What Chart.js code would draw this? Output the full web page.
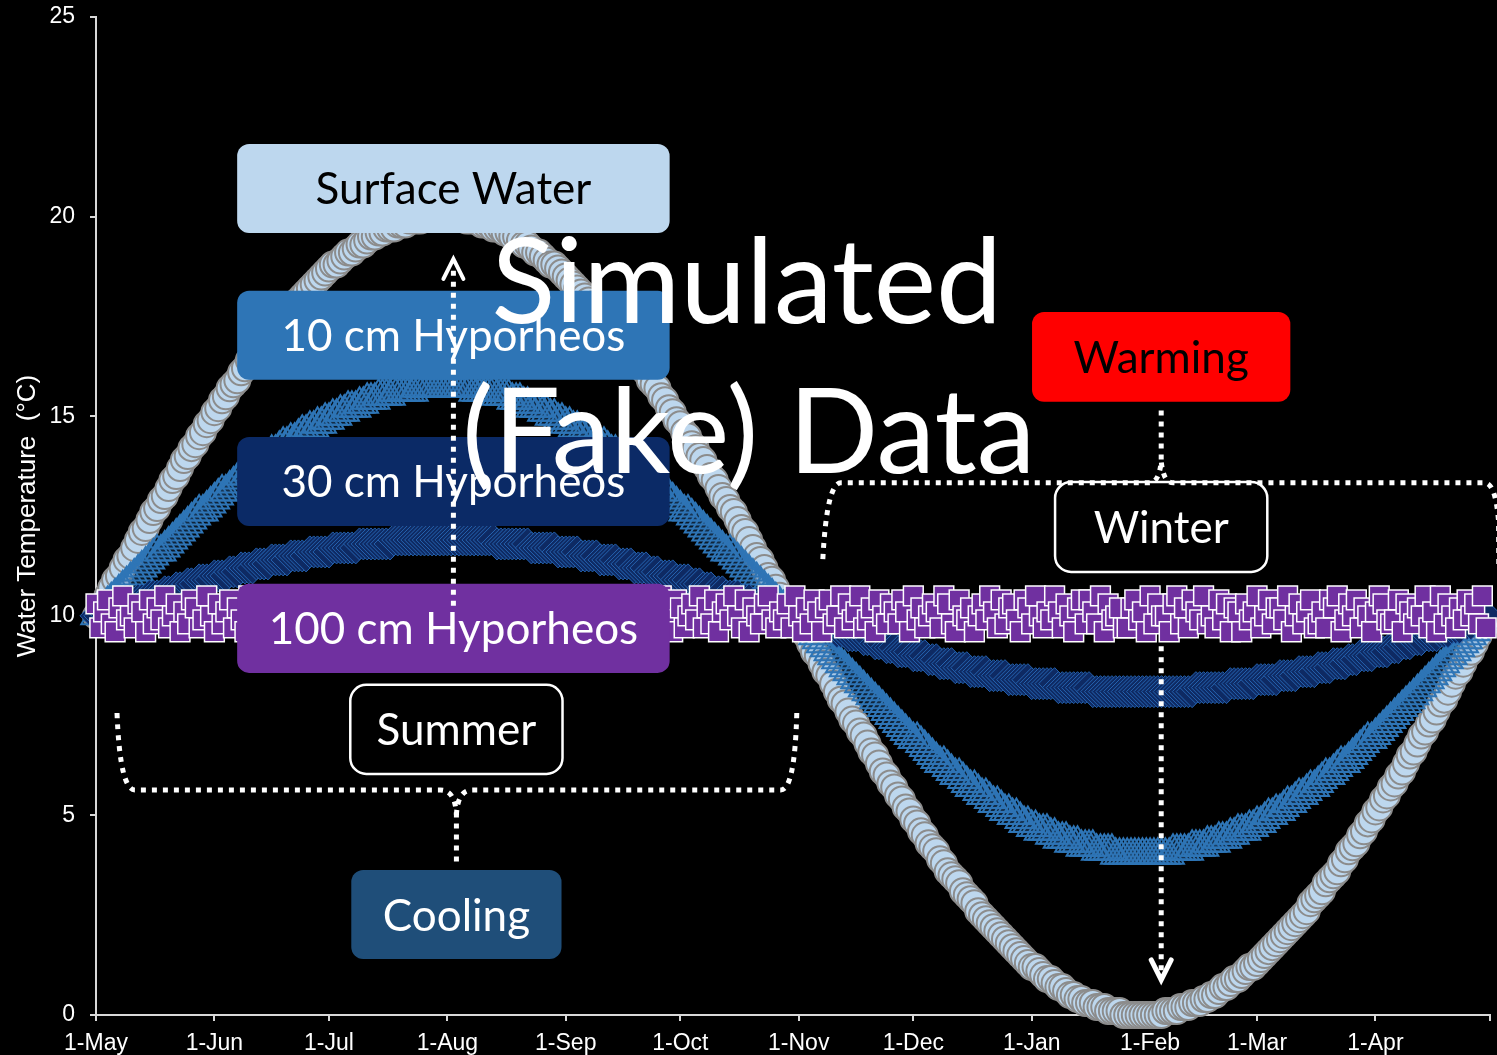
<!DOCTYPE html>
<html>
<head>
<meta charset="utf-8">
<script src="https://cdn.jsdelivr.net/npm/chart.js@4.4.1/dist/chart.umd.min.js"></script>
<style>
  html, body { margin: 0; padding: 0; background: #000; overflow: hidden; }
  canvas { display: block; }
</style>
</head>
<body>
<canvas id="chart" width="1497" height="1055"></canvas>
<script>
// Month tick positions (days after 1 May) and their labels
const monthStartDays = [0, 31, 61, 92, 123, 153, 184, 214, 245, 276, 304, 335, 365];
const monthLabels = ['1-May', '1-Jun', '1-Jul', '1-Aug', '1-Sep', '1-Oct', '1-Nov', '1-Dec', '1-Jan', '1-Feb', '1-Mar', '1-Apr', ''];
const yTickValues = [0, 5, 10, 15, 20, 25];

// Daily readings, starting 1 May
const sampleStepDays = 1;

const surfaceWater = [
  10.0,10.2,10.3,10.5,10.7,10.9,11.0,11.2,11.4,11.5,
  11.7,11.9,12.1,12.2,12.4,12.6,12.7,12.9,13.0,13.2,
  13.4,13.5,13.7,13.9,14.0,14.2,14.3,14.5,14.6,14.8,
  14.9,15.1,15.2,15.4,15.5,15.7,15.8,15.9,16.1,16.2,
  16.4,16.5,16.6,16.7,16.9,17.0,17.1,17.2,17.4,17.5,
  17.6,17.7,17.8,17.9,18.0,18.1,18.2,18.3,18.4,18.5,
  18.6,18.7,18.8,18.8,18.9,19.0,19.1,19.1,19.2,19.3,
  19.3,19.4,19.5,19.5,19.6,19.6,19.7,19.7,19.7,19.8,
  19.8,19.8,19.9,19.9,19.9,19.9,20.0,20.0,20.0,20.0,
  20.0,20.0,
  20.0,
  20.0,20.0,20.0,20.0,19.9,19.9,19.9,19.9,19.8,19.8,
  19.8,19.7,19.7,19.7,19.6,19.6,19.5,19.5,19.4,19.3,
  19.3,19.2,19.1,19.1,19.0,18.9,18.8,18.8,18.7,18.6,
  18.5,18.4,18.3,18.2,18.1,18.0,17.9,17.8,17.7,17.6,
  17.5,17.4,17.2,17.1,17.0,16.9,16.7,16.6,16.5,16.4,
  16.2,16.1,15.9,15.8,15.7,15.5,15.4,15.2,15.1,14.9,
  14.8,14.6,14.5,14.3,14.2,14.0,13.9,13.7,13.5,13.4,
  13.2,13.0,12.9,12.7,12.6,12.4,12.2,12.1,11.9,11.7,
  11.5,11.4,11.2,11.0,10.9,10.7,10.5,10.3,10.2,10.0,
  10.0,9.8,9.7,9.5,9.3,9.1,9.0,8.8,8.6,8.5,
  8.3,8.1,7.9,7.8,7.6,7.4,7.3,7.1,7.0,6.8,
  6.6,6.5,6.3,6.1,6.0,5.8,5.7,5.5,5.4,5.2,
  5.1,4.9,4.8,4.6,4.5,4.3,4.2,4.1,3.9,3.8,
  3.6,3.5,3.4,3.3,3.1,3.0,2.9,2.8,2.6,2.5,
  2.4,2.3,2.2,2.1,2.0,1.9,1.8,1.7,1.6,1.5,
  1.4,1.3,1.2,1.2,1.1,1.0,0.9,0.9,0.8,0.7,
  0.7,0.6,0.5,0.5,0.4,0.4,0.3,0.3,0.3,0.2,
  0.2,0.2,0.1,0.1,0.1,0.1,0.0,0.0,0.0,0.0,
  0.0,0.0,
  0.0,
  0.0,0.0,0.0,0.0,0.1,0.1,0.1,0.1,0.2,0.2,
  0.2,0.3,0.3,0.3,0.4,0.4,0.5,0.5,0.6,0.7,
  0.7,0.8,0.9,0.9,1.0,1.1,1.2,1.2,1.3,1.4,
  1.5,1.6,1.7,1.8,1.9,2.0,2.1,2.2,2.3,2.4,
  2.5,2.6,2.8,2.9,3.0,3.1,3.3,3.4,3.5,3.6,
  3.8,3.9,4.1,4.2,4.3,4.5,4.6,4.8,4.9,5.1,
  5.2,5.4,5.5,5.7,5.8,6.0,6.1,6.3,6.5,6.6,
  6.8,7.0,7.1,7.3,7.4,7.6,7.8,7.9,8.1,8.3,
  8.5,8.6,8.8,9.0,9.1,9.3,9.5,9.7,9.8
];

const hyporheos10cm = [
  10.0,10.1,10.2,10.3,10.4,10.5,10.6,10.7,10.8,10.9,
  11.0,11.1,11.2,11.3,11.4,11.5,11.6,11.6,11.7,11.8,
  11.9,12.0,12.1,12.2,12.3,12.4,12.5,12.6,12.6,12.7,
  12.8,12.9,13.0,13.1,13.1,13.2,13.3,13.4,13.5,13.5,
  13.6,13.7,13.8,13.8,13.9,14.0,14.1,14.1,14.2,14.3,
  14.3,14.4,14.4,14.5,14.6,14.6,14.7,14.7,14.8,14.8,
  14.9,14.9,15.0,15.0,15.1,15.1,15.2,15.2,15.2,15.3,
  15.3,15.4,15.4,15.4,15.5,15.5,15.5,15.5,15.6,15.6,
  15.6,15.6,15.6,15.6,15.7,15.7,15.7,15.7,15.7,15.7,
  15.7,15.7,
  15.7,
  15.7,15.7,15.7,15.7,15.7,15.7,15.6,15.6,15.6,15.6,
  15.6,15.6,15.5,15.5,15.5,15.5,15.4,15.4,15.4,15.3,
  15.3,15.2,15.2,15.2,15.1,15.1,15.0,15.0,14.9,14.9,
  14.8,14.8,14.7,14.7,14.6,14.6,14.5,14.4,14.4,14.3,
  14.3,14.2,14.1,14.1,14.0,13.9,13.8,13.8,13.7,13.6,
  13.5,13.5,13.4,13.3,13.2,13.1,13.1,13.0,12.9,12.8,
  12.7,12.6,12.6,12.5,12.4,12.3,12.2,12.1,12.0,11.9,
  11.8,11.7,11.6,11.6,11.5,11.4,11.3,11.2,11.1,11.0,
  10.9,10.8,10.7,10.6,10.5,10.4,10.3,10.2,10.1,10.0,
  10.0,9.9,9.8,9.7,9.6,9.5,9.4,9.3,9.2,9.1,
  9.0,8.9,8.8,8.7,8.6,8.5,8.4,8.3,8.2,8.1,
  8.0,7.9,7.8,7.7,7.6,7.5,7.4,7.3,7.2,7.1,
  7.0,6.9,6.9,6.8,6.7,6.6,6.5,6.4,6.3,6.3,
  6.2,6.1,6.0,6.0,5.9,5.8,5.7,5.7,5.6,5.5,
  5.5,5.4,5.3,5.3,5.2,5.1,5.1,5.0,5.0,4.9,
  4.8,4.8,4.7,4.7,4.6,4.6,4.6,4.5,4.5,4.4,
  4.4,4.4,4.3,4.3,4.3,4.2,4.2,4.2,4.2,4.1,
  4.1,4.1,4.1,4.1,4.0,4.0,4.0,4.0,4.0,4.0,
  4.0,4.0,
  4.0,
  4.0,4.0,4.0,4.0,4.0,4.0,4.1,4.1,4.1,4.1,
  4.1,4.2,4.2,4.2,4.2,4.3,4.3,4.3,4.4,4.4,
  4.4,4.5,4.5,4.6,4.6,4.6,4.7,4.7,4.8,4.8,
  4.9,5.0,5.0,5.1,5.1,5.2,5.3,5.3,5.4,5.5,
  5.5,5.6,5.7,5.7,5.8,5.9,6.0,6.0,6.1,6.2,
  6.3,6.3,6.4,6.5,6.6,6.7,6.8,6.9,6.9,7.0,
  7.1,7.2,7.3,7.4,7.5,7.6,7.7,7.8,7.9,8.0,
  8.1,8.2,8.3,8.4,8.5,8.6,8.7,8.8,8.9,9.0,
  9.1,9.2,9.3,9.4,9.5,9.6,9.7,9.8,9.9
];

const hyporheos30cm = [
  10.0,10.0,10.1,10.1,10.1,10.2,10.2,10.2,10.3,10.3,
  10.3,10.4,10.4,10.4,10.5,10.5,10.5,10.5,10.6,10.6,
  10.6,10.7,10.7,10.7,10.8,10.8,10.8,10.9,10.9,10.9,
  10.9,11.0,11.0,11.0,11.0,11.1,11.1,11.1,11.2,11.2,
  11.2,11.2,11.3,11.3,11.3,11.3,11.4,11.4,11.4,11.4,
  11.4,11.5,11.5,11.5,11.5,11.5,11.6,11.6,11.6,11.6,
  11.6,11.6,11.7,11.7,11.7,11.7,11.7,11.7,11.7,11.8,
  11.8,11.8,11.8,11.8,11.8,11.8,11.8,11.8,11.9,11.9,
  11.9,11.9,11.9,11.9,11.9,11.9,11.9,11.9,11.9,11.9,
  11.9,11.9,
  11.9,
  11.9,11.9,11.9,11.9,11.9,11.9,11.9,11.9,11.9,11.9,
  11.9,11.9,11.8,11.8,11.8,11.8,11.8,11.8,11.8,11.8,
  11.8,11.7,11.7,11.7,11.7,11.7,11.7,11.7,11.6,11.6,
  11.6,11.6,11.6,11.6,11.5,11.5,11.5,11.5,11.5,11.4,
  11.4,11.4,11.4,11.4,11.3,11.3,11.3,11.3,11.2,11.2,
  11.2,11.2,11.1,11.1,11.1,11.0,11.0,11.0,11.0,10.9,
  10.9,10.9,10.9,10.8,10.8,10.8,10.7,10.7,10.7,10.6,
  10.6,10.6,10.5,10.5,10.5,10.5,10.4,10.4,10.4,10.3,
  10.3,10.3,10.2,10.2,10.2,10.1,10.1,10.1,10.0,10.0,
  10.0,10.0,9.9,9.9,9.9,9.8,9.8,9.8,9.7,9.7,
  9.7,9.6,9.6,9.6,9.5,9.5,9.5,9.5,9.4,9.4,
  9.4,9.3,9.3,9.3,9.2,9.2,9.2,9.1,9.1,9.1,
  9.1,9.0,9.0,9.0,9.0,8.9,8.9,8.9,8.8,8.8,
  8.8,8.8,8.7,8.7,8.7,8.7,8.6,8.6,8.6,8.6,
  8.6,8.5,8.5,8.5,8.5,8.5,8.4,8.4,8.4,8.4,
  8.4,8.4,8.3,8.3,8.3,8.3,8.3,8.3,8.3,8.2,
  8.2,8.2,8.2,8.2,8.2,8.2,8.2,8.2,8.1,8.1,
  8.1,8.1,8.1,8.1,8.1,8.1,8.1,8.1,8.1,8.1,
  8.1,8.1,
  8.1,
  8.1,8.1,8.1,8.1,8.1,8.1,8.1,8.1,8.1,8.1,
  8.1,8.1,8.2,8.2,8.2,8.2,8.2,8.2,8.2,8.2,
  8.2,8.3,8.3,8.3,8.3,8.3,8.3,8.3,8.4,8.4,
  8.4,8.4,8.4,8.4,8.5,8.5,8.5,8.5,8.5,8.6,
  8.6,8.6,8.6,8.6,8.7,8.7,8.7,8.7,8.8,8.8,
  8.8,8.8,8.9,8.9,8.9,9.0,9.0,9.0,9.0,9.1,
  9.1,9.1,9.1,9.2,9.2,9.2,9.3,9.3,9.3,9.4,
  9.4,9.4,9.5,9.5,9.5,9.5,9.6,9.6,9.6,9.7,
  9.7,9.7,9.8,9.8,9.8,9.9,9.9,9.9,10.0
];

const hyporheos100cm = [
  10.3,9.7,10.1,10.4,9.8,9.6,10.2,10.5,9.9,10.0,
  9.7,10.3,10.1,9.6,10.4,9.8,10.2,9.9,10.5,9.7,
  10.0,10.3,9.6,10.1,9.8,10.4,10.2,9.7,9.9,10.5,
  10.0,9.6,10.3,9.8,10.1,10.4,9.7,10.2,9.9,9.6,
  10.5,10.0,9.8,10.3,10.1,9.7,10.4,9.6,10.2,9.9,
  10.0,10.5,9.8,9.7,10.3,10.1,9.6,10.4,10.2,9.9,
  9.7,10.0,10.5,9.8,10.3,9.6,10.1,10.4,9.9,10.2,
  9.7,10.0,9.8,10.5,10.3,9.6,10.1,9.9,10.4,9.7,
  10.2,10.0,9.8,10.3,9.6,10.5,10.1,9.9,9.7,10.4,
  10.2,9.8,10.0,10.3,9.6,10.1,10.5,9.9,9.7,10.4,
  10.2,9.8,10.0,9.6,10.3,10.1,9.9,10.5,9.7,10.2,
  10.4,9.8,10.0,9.6,10.3,10.1,9.7,10.5,9.9,10.2,
  9.8,10.4,10.0,9.6,10.3,9.7,10.1,10.5,9.9,10.2,
  9.8,10.4,9.6,10.0,10.3,9.7,10.1,9.9,10.5,10.2,
  9.8,9.6,10.4,10.0,10.3,9.7,10.1,9.9,10.5,9.8,
  10.1,9.6,10.4,10.2,9.7,10.0,10.3,9.9,10.5,9.7,
  10.2,9.8,10.4,9.6,10.1,10.3,9.9,10.5,10.0,9.7,
  10.4,9.6,10.2,10.0,9.8,10.3,10.5,9.9,9.7,10.1,
  9.9,10.3,9.7,10.5,10.0,9.6,10.2,9.8,10.4,10.1,
  9.6,10.2,10.4,9.8,10.0,10.5,9.7,10.3,9.9,10.1,
  10.5,9.7,9.9,10.2,9.6,10.4,10.0,9.8,10.3,10.1,
  9.8,10.4,10.1,9.6,10.5,9.9,10.2,9.7,10.0,10.3,
  10.1,9.7,10.5,10.3,9.8,9.6,10.4,10.0,9.9,10.2,
  9.6,10.0,10.3,9.9,10.5,10.1,9.7,10.4,9.8,10.2,
  10.3,9.9,9.6,10.4,10.2,9.8,10.5,10.0,9.7,10.1,
  9.9,10.5,10.1,9.7,10.3,10.0,9.6,10.2,10.4,9.8,
  10.4,10.1,9.8,10.5,9.6,10.3,9.9,10.0,10.2,9.7,
  9.7,10.2,10.4,9.9,10.1,9.6,10.5,9.8,10.3,10.0,
  10.0,9.6,10.3,10.5,9.8,10.2,9.7,10.4,10.1,9.9,
  10.5,9.8,10.0,9.7,10.4,9.9,10.3,9.6,10.2,10.1,
  9.6,10.3,9.9,10.1,10.5,9.7,10.0,10.4,9.8,10.2,
  10.2,9.9,10.5,9.6,10.0,10.3,9.8,10.1,10.4,9.7,
  9.8,10.1,9.7,10.4,10.2,10.5,9.6,9.9,10.3,10.0,
  10.4,9.7,10.2,10.0,9.6,10.1,10.5,10.3,9.9,9.8,
  9.9,10.4,9.6,10.3,10.1,9.8,10.2,10.0,10.5,9.7,
  10.1,9.6,10.5,9.8,10.3,10.0,9.7,10.2,9.9,10.4,
  10.0,10.3,9.8,10.5,9.7
];

const seriesNames = ['Surface Water', '10 cm Hyporheos', '30 cm Hyporheos', '100 cm Hyporheos'];

function toPoints(values) {
  return values.map((v, i) => ({ x: i * sampleStepDays, y: v }));
}

// Callout boxes, placed in axis units (days, °C)
const callouts = [
  { text: 'Surface Water',    d0: 36.96,  d1: 150.2,  t0: 21.82, t1: 19.59, fill: '#bdd7ee', color: '#000000' },
  { text: '10 cm Hyporheos',  d0: 36.96,  d1: 150.2,  t0: 18.14, t1: 15.91, fill: '#2e75b6', color: '#ffffff' },
  { text: '30 cm Hyporheos',  d0: 36.96,  d1: 150.2,  t0: 14.48, t1: 12.25, fill: '#0b2a66', color: '#ffffff' },
  { text: '100 cm Hyporheos', d0: 36.96,  d1: 150.2,  t0: 10.80, t1: 8.57,  fill: '#7030a0', color: '#ffffff' },
  { text: 'Summer',           d0: 66.58,  d1: 122.15, t0: 8.27,  t1: 6.04,  fill: '#000000', color: '#ffffff', stroke: '#ffffff' },
  { text: 'Cooling',          d0: 66.84,  d1: 121.89, t0: 3.63,  t1: 1.40,  fill: '#1f4e79', color: '#ffffff' },
  { text: 'Warming',          d0: 245.09, d1: 312.72, t0: 17.61, t1: 15.36, fill: '#ff0000', color: '#000000' },
  { text: 'Winter',           d0: 251.12, d1: 306.69, t0: 13.35, t1: 11.10, fill: '#000000', color: '#ffffff', stroke: '#ffffff' }
];

const overlayPlugin = {
  id: 'overlay',
  afterDatasetsDraw(chart) {
    const { ctx, scales: { x, y } } = chart;
    const X = d => x.getPixelForValue(d);
    const Y = t => y.getPixelForValue(t);
    ctx.save();

    // callout boxes
    callouts.forEach(c => {
      const left = X(c.d0), right = X(c.d1), top = Y(c.t0), bottom = Y(c.t1);
      ctx.beginPath();
      ctx.roundRect(left, top, right - left, bottom - top, c.stroke ? 16 : 12);
      ctx.fillStyle = c.fill;
      ctx.fill();
      if (c.stroke) {
        ctx.lineWidth = 2.5;
        ctx.strokeStyle = c.stroke;
        ctx.stroke();
      }
      ctx.fillStyle = c.color;
      ctx.font = '44px Lato, "Open Sans", sans-serif';
      ctx.textAlign = 'center';
      ctx.textBaseline = 'alphabetic';
      ctx.fillText(c.text, (left + right) / 2, (top + bottom) / 2 + 16);
    });

    // dotted braces and arrows
    ctx.strokeStyle = '#ffffff';
    ctx.lineWidth = 5;
    ctx.lineCap = 'butt';
    ctx.setLineDash([5, 6]);

    // Summer brace (opens upward, points down to "Cooling")
    ctx.beginPath();
    ctx.moveTo(X(5.50), Y(7.565));
    ctx.quadraticCurveTo(X(6.29), Y(5.636), X(10.22), Y(5.636));
    ctx.lineTo(X(90.17), Y(5.636));
    ctx.quadraticCurveTo(X(94.11), Y(5.636), X(94.37), Y(5.0));
    ctx.lineTo(X(94.37), Y(3.733));
    ctx.stroke();
    ctx.beginPath();
    ctx.moveTo(X(183.49), Y(7.565));
    ctx.quadraticCurveTo(X(182.97), Y(5.636), X(179.30), Y(5.636));
    ctx.lineTo(X(98.56), Y(5.636));
    ctx.quadraticCurveTo(X(94.63), Y(5.636), X(94.37), Y(5.0));
    ctx.stroke();

    // Winter brace (opens downward, points up to "Warming")
    ctx.beginPath();
    ctx.moveTo(X(190.31), Y(11.42));
    ctx.quadraticCurveTo(X(191.36), Y(13.33), X(195.03), Y(13.33));
    ctx.lineTo(X(275.76), Y(13.33));
    ctx.quadraticCurveTo(X(278.38), Y(13.33), X(278.91), Y(13.88));
    ctx.lineTo(X(278.91), Y(15.26));
    ctx.stroke();
    ctx.beginPath();
    ctx.moveTo(X(367.3), Y(11.3));
    ctx.lineTo(X(367.24), Y(12.37));
    ctx.quadraticCurveTo(X(366.45), Y(13.33), X(363.57), Y(13.33));
    ctx.lineTo(X(282.05), Y(13.33));
    ctx.quadraticCurveTo(X(279.43), Y(13.33), X(278.91), Y(13.88));
    ctx.stroke();

    // rising arrow (summer peak) and falling arrow (winter low)
    ctx.beginPath();
    ctx.moveTo(X(93.58), Y(10.25));
    ctx.lineTo(X(93.58), Y(18.76));
    ctx.stroke();
    ctx.beginPath();
    ctx.moveTo(X(278.91), Y(9.24));
    ctx.lineTo(X(278.91), Y(1.10));
    ctx.stroke();

    ctx.setLineDash([]);
    ctx.lineWidth = 4;
    ctx.lineCap = 'round';
    ctx.lineJoin = 'miter';
    let tx = X(93.58), ty = Y(18.99);
    ctx.beginPath();
    ctx.moveTo(tx - 10, ty + 22);
    ctx.lineTo(tx, ty + 2);
    ctx.lineTo(tx + 10, ty + 22);
    ctx.stroke();
    tx = X(278.91); ty = Y(0.83);
    ctx.lineWidth = 5;
    ctx.beginPath();
    ctx.moveTo(tx - 10, ty - 22);
    ctx.lineTo(tx, ty - 2);
    ctx.lineTo(tx + 10, ty - 22);
    ctx.stroke();

    // headline
    ctx.fillStyle = '#ffffff';
    ctx.font = '118px Lato, "Open Sans", sans-serif';
    ctx.textAlign = 'center';
    ctx.textBaseline = 'alphabetic';
    ctx.fillText('Simulated', X(170.4), Y(17.33));
    ctx.fillText('(Fake) Data', X(170.9), Y(13.58));

    ctx.restore();
  }
};

const axisFont = "'Liberation Sans', Arial, sans-serif";

new Chart(document.getElementById('chart'), {
  type: 'scatter',
  data: {
    datasets: [
      {
        label: seriesNames[3], data: toPoints(hyporheos100cm), order: 0, clip: false,
        pointStyle: 'rect', pointRadius: 14, backgroundColor: '#7030a0', borderColor: '#ffffff', borderWidth: 1.5
      },
      {
        label: seriesNames[2], data: toPoints(hyporheos30cm), order: 1, clip: false,
        pointStyle: 'rectRot', pointRadius: 16, backgroundColor: '#0e2a63', borderColor: '#2563b0', borderWidth: 1
      },
      {
        label: seriesNames[1], data: toPoints(hyporheos10cm), order: 2, clip: false,
        pointStyle: 'triangle', pointRadius: 17, backgroundColor: 'rgba(46,117,182,0.12)', borderColor: '#2e75b6', borderWidth: 2
      },
      {
        label: seriesNames[0], data: toPoints(surfaceWater), order: 3, clip: false,
        pointStyle: 'circle', pointRadius: 13, backgroundColor: '#bdd7ee', borderColor: '#8c8c8c', borderWidth: 2
      }
    ]
  },
  options: {
    responsive: false,
    animation: false,
    events: [],
    layout: { autoPadding: false, padding: { top: 17, right: 7, left: 0, bottom: 0 } },
    plugins: { legend: { display: false }, tooltip: { enabled: false } },
    scales: {
      x: {
        type: 'linear', min: 0, max: 365,
        afterBuildTicks: axis => { axis.ticks = monthStartDays.map(v => ({ value: v })); },
        afterFit: scale => { scale.height = 40; scale.paddingLeft = 0; scale.paddingRight = 0; },
        ticks: {
          autoSkip: false, maxRotation: 0, minRotation: 0, padding: 9, color: '#ffffff',
          font: { family: axisFont, size: 23 },
          callback: value => monthLabels[monthStartDays.indexOf(value)]
        },
        grid: { drawOnChartArea: false, drawTicks: true, tickLength: 6, color: '#d9d9d9', lineWidth: 2 },
        border: { color: '#d9d9d9', width: 2 }
      },
      y: {
        min: 0, max: 25,
        afterBuildTicks: axis => { axis.ticks = yTickValues.map(v => ({ value: v })); },
        afterFit: scale => { scale.width = 96; scale.paddingTop = 0; scale.paddingBottom = 0; },
        ticks: { padding: 15, color: '#ffffff', font: { family: axisFont, size: 23 } },
        grid: { drawOnChartArea: false, drawTicks: true, tickLength: 6, color: '#d9d9d9', lineWidth: 2 },
        border: { color: '#d9d9d9', width: 2 },
        title: {
          display: true, text: 'Water Temperature  (°C)', color: '#ffffff',
          font: { family: axisFont, size: 26 }, padding: { top: 12, bottom: 0 }
        }
      }
    }
  },
  plugins: [overlayPlugin]
});
</script>
</body>
</html>
